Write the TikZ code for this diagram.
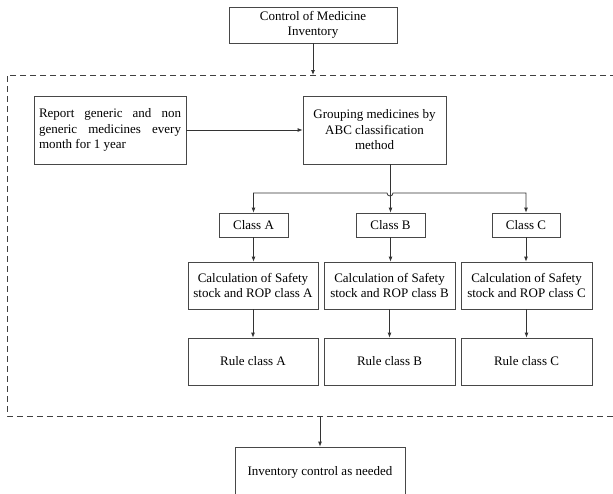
\documentclass[tikz,border=0pt]{standalone}
\usepackage{fontspec}
\setmainfont{Liberation Serif}
\usetikzlibrary{arrows.meta}
\begin{document}
\begin{tikzpicture}[x=1pt,y=-1pt,
  boxs/.style={draw=black!72, line width=0.8pt, inner sep=0pt, align=center,
    font=\fontsize{13}{15.5}\selectfont},
  arr/.style={draw=black!80, line width=0.8pt, -{Latex[length=5pt,width=4pt]}},
  dashbox/.style={draw=black!75, line width=0.8pt, dash pattern=on 6pt off 4pt}]
\useasboundingbox (0,0) rectangle (613,493);
% dashed frame
\draw[dashbox] (616,75) -- (7,75) -- (7,416) -- (616,416);
\coordinate (dtop) at (313,75);
\coordinate (dbot) at (320,416);
% nodes
\node[boxs, minimum width=168pt, minimum height=36pt] (top) at (313,25)
  {Control of Medicine\\Inventory};
\node[boxs, minimum width=152pt, minimum height=68pt, align=left] (rep) at (110,130)
  {\makebox[142pt][s]{Report generic and non}\\
   \makebox[142pt][s]{generic medicines every}\\
   \makebox[142pt][l]{month for 1 year}};
\node[boxs, minimum width=143pt, minimum height=68pt] (grp) at (374.5,130)
  {Grouping medicines by\\ABC classification\\method};
\node[boxs, minimum width=69pt, minimum height=24pt] (ca) at (253.5,225) {Class A};
\node[boxs, minimum width=69pt, minimum height=24pt] (cb) at (390.5,225) {Class B};
\node[boxs, minimum width=68pt, minimum height=24pt] (cc) at (526,225) {Class C};
\node[boxs, minimum width=130pt, minimum height=47pt] (sa) at (253,285.5)
  {Calculation of Safety\\stock and ROP class A};
\node[boxs, minimum width=131pt, minimum height=47pt] (sb) at (389.5,285.5)
  {Calculation of Safety\\stock and ROP class B};
\node[boxs, minimum width=131pt, minimum height=47pt] (sc) at (526.5,285.5)
  {Calculation of Safety\\stock and ROP class C};
\node[boxs, minimum width=130pt, minimum height=47pt] (ra) at (253,361.5) {Rule class A};
\node[boxs, minimum width=131pt, minimum height=47pt] (rb) at (389.5,361.5) {Rule class B};
\node[boxs, minimum width=131pt, minimum height=47pt] (rc) at (526.5,361.5) {Rule class C};
\node[boxs, minimum width=170pt, minimum height=50pt] (fin) at (320,472)
  {Inventory control as needed};
% connectors
\draw[arr] (top.south) -- (dtop);
\draw[arr] (rep.east) -- (grp.west);
\draw[arr] (grp.south -| cb.north) -- (cb.north);
\coordinate (hl) at (387,193);
\draw[draw=black!80, line width=0.8pt, {Latex[length=5pt,width=4pt]}-{Latex[length=5pt,width=4pt]}]
  (ca.north) -- (ca.north |- hl) -- (hl) arc[start angle=180, end angle=0, radius=3]
  -- (cc.north |- hl) -- (cc.north);
\draw[arr] (ca.south) -- (sa.north -| ca.south);
\draw[arr] (cb.south) -- (sb.north -| cb.south);
\draw[arr] (cc.south) -- (sc.north -| cc.south);
\draw[arr] (sa.south) -- (ra.north);
\draw[arr] (sb.south) -- (rb.north);
\draw[arr] (sc.south) -- (rc.north);
\draw[arr] (dbot) -- (fin.north);
\end{tikzpicture}
\end{document}
